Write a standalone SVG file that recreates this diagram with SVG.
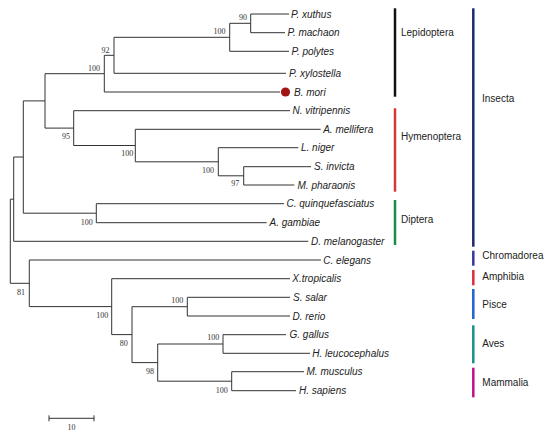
<svg xmlns="http://www.w3.org/2000/svg" width="550" height="436" viewBox="0 0 550 436">
<style>
.br{fill:none;stroke:#333;stroke-width:1}
.lf{font-family:"Liberation Sans",Arial,sans-serif;font-style:italic;font-size:10px;fill:#222}
.bs{font-family:"Liberation Serif","Times New Roman",serif;font-size:8px;fill:#333;text-anchor:end}
.gl{font-family:"Liberation Sans",Arial,sans-serif;font-size:10px;fill:#222}
.bar{stroke-width:2.5;fill:none}
</style>
<rect width="550" height="436" fill="#fff"/>
<g id="connectors" class="br">
<path d="M289 14 H250.7 V32.7 H285"/>
<path d="M250.7 23.3 H229.7 V51.3 H289"/>
<path d="M229.7 37.3 H114 V73.3 H286"/>
<path d="M114 55.3 H104.3 V92 H280"/>
<path d="M311 166.7 H243.7 V185 H294.3"/>
<path d="M298.3 147.7 H218.3 V175.8 H243.7"/>
<path d="M320.7 129.3 H135.3 V161.8 H218.3"/>
<path d="M290 110.7 H73.7 V145.5 H135.3"/>
<path d="M104.3 73.7 H45 V128.1 H73.7"/>
<path d="M284 203.7 H96.3 V222.7 H266.7"/>
<path d="M45 100.9 H23.3 V213.2 H96.3"/>
<path d="M23.3 157 H13.7 V241.3 H308.3"/>
<path d="M290 297.3 H187.3 V316 H290"/>
<path d="M286 334.7 H223 V353.3 H310"/>
<path d="M304 371.7 H231.7 V390.7 H296"/>
<path d="M223 344 H157.7 V381.2 H231.7"/>
<path d="M187.3 306.7 H132 V362.6 H157.7"/>
<path d="M290 278.7 H111.7 V334.6 H132"/>
<path d="M321 260 H29.3 V306.6 H111.7"/>
<path d="M13.7 199.2 H10.3 V283.3 H29.3"/>
</g>
<g id="leaves">
<g id="n-pxuthus"><text class="lf" x="291" y="17.5">P. xuthus</text></g>
<g id="n-pmachaon"><text class="lf" x="287.5" y="36.2">P. machaon</text></g>
<g id="n-ppolytes"><text class="lf" x="291.5" y="54.8">P. polytes</text></g>
<g id="n-pxylostella"><text class="lf" x="289" y="76.8">P. xylostella</text></g>
<g id="n-bmori"><circle cx="285.5" cy="92" r="4.6" fill="#a01515"/><text class="lf" x="294" y="95.5">B. mori</text></g>
<g id="n-nvitripennis"><text class="lf" x="292.5" y="114.2">N. vitripennis</text></g>
<g id="n-amellifera"><text class="lf" x="323.2" y="132.8">A. mellifera</text></g>
<g id="n-lniger"><text class="lf" x="301" y="151.2">L. niger</text></g>
<g id="n-sinvicta"><text class="lf" x="314" y="170.2">S. invicta</text></g>
<g id="n-mpharaonis"><text class="lf" x="297.5" y="188.5">M. pharaonis</text></g>
<g id="n-cquinq"><text class="lf" x="286.5" y="207.2">C. quinquefasciatus</text></g>
<g id="n-agambiae"><text class="lf" x="269.5" y="226.2">A. gambiae</text></g>
<g id="n-dmelanogaster"><text class="lf" x="311" y="244.8">D. melanogaster</text></g>
<g id="n-celegans"><text class="lf" x="323.3" y="263.5">C. elegans</text></g>
<g id="n-xtropicalis"><text class="lf" x="292.3" y="282.2">X.tropicalis</text></g>
<g id="n-ssalar"><text class="lf" x="293" y="300.8">S. salar</text></g>
<g id="n-drerio"><text class="lf" x="292.5" y="319.5">D. rerio</text></g>
<g id="n-ggallus"><text class="lf" x="289.5" y="338.2">G. gallus</text></g>
<g id="n-hleuco"><text class="lf" x="312.3" y="356.8">H. leucocephalus</text></g>
<g id="n-mmusculus"><text class="lf" x="306.5" y="375.2">M. musculus</text></g>
<g id="n-hsapiens"><text class="lf" x="299" y="394.2">H. sapiens</text></g>
</g>
<g id="bootstrap">
<g id="b-A"><text class="bs" x="247" y="19.8">90</text></g>
<g id="b-B"><text class="bs" x="225.5" y="34.4">100</text></g>
<g id="b-C"><text class="bs" x="109.5" y="52.7">92</text></g>
<g id="b-D"><text class="bs" x="100" y="70.7">100</text></g>
<g id="b-H"><text class="bs" x="70" y="139.4">95</text></g>
<g id="b-G"><text class="bs" x="133.3" y="156">100</text></g>
<g id="b-F"><text class="bs" x="214" y="173.4">100</text></g>
<g id="b-E"><text class="bs" x="239.3" y="186.4">97</text></g>
<g id="b-J"><text class="bs" x="92.7" y="224.7">100</text></g>
<g id="b-S"><text class="bs" x="25" y="294.7">81</text></g>
<g id="b-R"><text class="bs" x="108.3" y="318">100</text></g>
<g id="b-Q"><text class="bs" x="127.7" y="346.4">80</text></g>
<g id="b-M"><text class="bs" x="183.3" y="302.7">100</text></g>
<g id="b-P"><text class="bs" x="154" y="373.7">98</text></g>
<g id="b-N"><text class="bs" x="219.3" y="340.4">100</text></g>
<g id="b-O"><text class="bs" x="227.7" y="392.7">100</text></g>
</g>
<g id="groups">
<g id="g-lepidoptera"><line class="bar" x1="395" y1="8.3" x2="395" y2="96.7" stroke="#111"/><text class="gl" x="401" y="36">Lepidoptera</text></g>
<g id="g-hymenoptera"><line class="bar" x1="395" y1="108.3" x2="395" y2="191.7" stroke="#d03a3a"/><text class="gl" x="401" y="140.3">Hymenoptera</text></g>
<g id="g-diptera"><line class="bar" x1="395" y1="200" x2="395" y2="245" stroke="#1a8a4a"/><text class="gl" x="401" y="222.6">Diptera</text></g>
<g id="g-insecta"><line class="bar" x1="473.3" y1="8.3" x2="473.3" y2="246.7" stroke="#1e2a6a"/><text class="gl" x="482" y="101.9">Insecta</text></g>
<g id="g-chromadorea"><line class="bar" x1="473.3" y1="250.7" x2="473.3" y2="265.7" stroke="#353a9a"/><text class="gl" x="482.3" y="259.3">Chromadorea</text></g>
<g id="g-amphibia"><line class="bar" x1="473.3" y1="270" x2="473.3" y2="285.3" stroke="#d8303a"/><text class="gl" x="482.3" y="279.9">Amphibia</text></g>
<g id="g-pisce"><line class="bar" x1="473.3" y1="289" x2="473.3" y2="319" stroke="#1e63d8"/><text class="gl" x="482.3" y="307.9">Pisce</text></g>
<g id="g-aves"><line class="bar" x1="473.3" y1="325.3" x2="473.3" y2="363.3" stroke="#16908a"/><text class="gl" x="482.3" y="346.9">Aves</text></g>
<g id="g-mammalia"><line class="bar" x1="473.3" y1="367.7" x2="473.3" y2="397.3" stroke="#c01088"/><text class="gl" x="482.3" y="386.3">Mammalia</text></g>
</g>
<g id="scalebar">
<path class="br" d="M49 418.3 H94 M49 415.3 V421.3 M94 415.3 V421.3"/>
<text class="bs" style="text-anchor:middle" x="71.5" y="430">10</text>
</g>
</svg>
